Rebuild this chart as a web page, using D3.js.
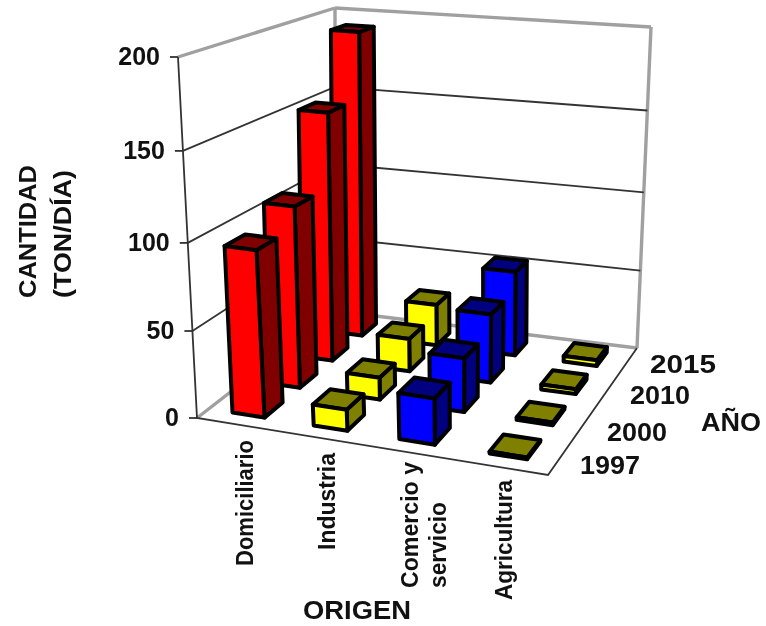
<!DOCTYPE html>
<html><head><meta charset="utf-8">
<script src="https://cdn.jsdelivr.net/npm/d3@7"></script>
<style>html,body{margin:0;padding:0;background:#fff}svg{display:block;filter:blur(0.45px)}text{font-family:"Liberation Sans",Arial,sans-serif;font-weight:bold;fill:#111}</style>
</head><body><svg id="c" width="766" height="626"></svg>
<script>
const categories=["Domiciliario","Industria","Comercio y|servicio","Agricultura"];
const years=["1997","2000","2010","2015"];
const domiciliario=[96,108,152,192];
const industria=[12,13,20,26];
const comercio=[26,31.5,41.5,53];
const agricultura=[1,1.5,3,3.5];
const series=[domiciliario,industria,comercio,agricultura];
const faceColors=["#ff0000","#ffff00","#0000ff","#ffff00"];
const darkColors=["#800000","#808000","#000080","#808000"];
const yTicks=[0,50,100,150,200];

const svg=d3.select("#c");
function homography(q){
  const [a,b,c,d]=q; // (0,0),(1,0),(1,1),(0,1)
  const dx1=b[0]-c[0],dx2=d[0]-c[0],sx=a[0]-b[0]+c[0]-d[0];
  const dy1=b[1]-c[1],dy2=d[1]-c[1],sy=a[1]-b[1]+c[1]-d[1];
  const den=dx1*dy2-dx2*dy1;
  const g=(sx*dy2-dx2*sy)/den,h=(dx1*sy-sx*dy1)/den;
  const A=b[0]-a[0]+g*b[0],B=d[0]-a[0]+h*d[0],C=a[0];
  const D=b[1]-a[1]+g*b[1],E=d[1]-a[1]+h*d[1],F=a[1];
  return (u,v)=>{const w=g*u+h*v+1;return [(A*u+B*v+C)/w,(D*u+E*v+F)/w];};
}
const floorH=homography([[197,418],[548,475],[637,348],[335,311]]);
const topH=homography([[178,57],[572,98],[651,27],[335,8]]);
const hScale=d3.scaleLinear().domain(yTicks).range([0,0.241,0.485,0.74,1]);
const P=(u,v,val)=>{const a=floorH(u,v),b=topH(u,v),t=hScale(val);return [a[0]+(b[0]-a[0])*t,a[1]+(b[1]-a[1])*t];};
const uScale=d3.scaleBand().domain(categories).range([0,1]).paddingInner(0.6).paddingOuter(0.3);
const vScale=d3.scaleBand().domain(years).range([0,1]).paddingInner(0.5).paddingOuter(0.3);
const line=pts=>"M"+pts.map(p=>p[0].toFixed(1)+","+p[1].toFixed(1)).join("L");
const path=pts=>line(pts)+"Z";

const walls=svg.append("g");
const grey="#a0a0a0",dark="#333";
[[[0,0,0],[0,1,0]],[[0,1,0],[1,1,0]],[[1,1,0],[1,1,200]],[[1,1,200],[0,1,200]],[[0,1,200],[0,0,200]],[[0,1,0],[0,1,200]]].forEach(s=>{
  walls.append("path").attr("d",line(s.map(p=>P(...p)))).attr("fill","none").attr("stroke",grey).attr("stroke-width",3.4);
});
yTicks.slice(1,-1).forEach(t=>{
  walls.append("path").attr("d",line([P(0,0,t),P(0,1,t),P(1,1,t)])).attr("fill","none").attr("stroke",dark).attr("stroke-width",1.8);
});
walls.append("path").attr("d",line([P(0,0,200),P(0,0,0),P(1,0,0),P(1,1,0)])).attr("fill","none").attr("stroke",dark).attr("stroke-width",1.8);
yTicks.forEach(t=>{
  const p=P(0,0,t);
  walls.append("path").attr("d",line([[p[0]-8,p[1]],p])).attr("stroke",dark).attr("stroke-width",1.8);
  svg.append("text").attr("x",p[0]-18).attr("y",p[1]+8).attr("text-anchor","end").attr("font-size",25).text(t);
});

const bars=svg.append("g");
const bw=uScale.bandwidth(),bd=vScale.bandwidth();
for(let j=years.length-1;j>=0;j--){
  categories.forEach((c,i)=>{
    const val=series[i][j];
    const u0=uScale(c),u1=u0+bw,v0=vScale(years[j]),v1=v0+bd;
    const add=(pts,fill)=>bars.append("path").attr("d",path(pts)).attr("fill",fill).attr("stroke","#000").attr("stroke-width",4).attr("stroke-linejoin","round");
    add([P(u1,v0,0),P(u1,v1,0),P(u1,v1,val),P(u1,v0,val)],darkColors[i]);
    add([P(u0,v0,val),P(u1,v0,val),P(u1,v1,val),P(u0,v1,val)],darkColors[i]);
    add([P(u0,v0,0),P(u1,v0,0),P(u1,v0,val),P(u0,v0,val)],faceColors[i]);
  });
}

// category labels: [x baseline, bottom y, text length] per line
const catLayout=[[[253,566,126]],[[335,550,97]],[[418,588,126],[446,588,86]],[[512,600,120]]];
categories.forEach((c,i)=>{
  c.split("|").forEach((s,k)=>{
    const [x,y,len]=catLayout[i][k];
    svg.append("text").attr("transform",`translate(${x},${y}) rotate(-90)`).attr("font-size",23).attr("textLength",len).attr("lengthAdjust","spacingAndGlyphs").text(s);
  });
});
const yearPos=[[580,474],[607,441],[630,404],[650,373]];
years.forEach((y,i)=>svg.append("text").attr("x",yearPos[i][0]).attr("y",yearPos[i][1]).attr("font-size",25).attr("textLength",i==3?66:60).attr("lengthAdjust","spacingAndGlyphs").text(y));
svg.append("text").attr("x",701).attr("y",431).attr("font-size",25).attr("textLength",60).attr("lengthAdjust","spacingAndGlyphs").text("AÑO");
svg.append("text").attr("x",303).attr("y",619).attr("font-size",25).attr("textLength",108).attr("lengthAdjust","spacingAndGlyphs").text("ORIGEN");
const yl=svg.append("g").attr("transform","translate(36,298) rotate(-90)");
yl.append("text").attr("font-size",24).attr("textLength",133).attr("lengthAdjust","spacingAndGlyphs").text("CANTIDAD");
yl.append("text").attr("y",35).attr("font-size",24).attr("textLength",128).attr("lengthAdjust","spacingAndGlyphs").text("(TON/DÍA)");
</script></body></html>
